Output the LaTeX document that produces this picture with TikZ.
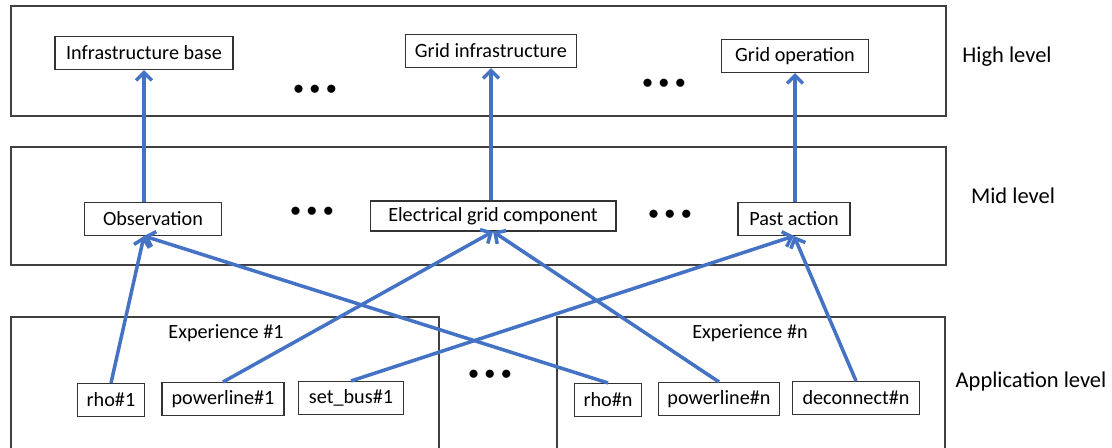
\documentclass[tikz,border=0pt]{standalone}
\usepackage{fontspec}
\setmainfont{Carlito}
\usetikzlibrary{arrows.meta, positioning}
\definecolor{linkBlue}{RGB}{68, 114, 196}
\tikzset{
    levelbox/.style={draw=black!75, line width=0.6pt},
    item/.style={draw=black!80, line width=0.6pt, fill=white, inner sep=0pt,
                 minimum height=0.66cm, font=\fontsize{11.5}{13}\selectfont},
    levelname/.style={font=\fontsize{12.8}{15}\selectfont},
    caption/.style={font=\fontsize{11.5}{13}\selectfont},
    dots/.style={font=\large},
    link/.style={draw=linkBlue, line width=2pt, -{Straight Barb[length=4.5pt, width=9pt]}}
}
\def\threedots{$\bullet\mkern1mu\bullet\mkern1mu\bullet$}

\begin{document}
\begin{tikzpicture}[x=0.02cm, y=-0.02cm]
    \useasboundingbox (0,0) rectangle (1112,448);

    % Draw the level frames
    \draw[levelbox] (11,6) rectangle (946,116);
    \draw[levelbox] (11,147) rectangle (946,265);
    \draw[levelbox] (11,449) |- (439,317) -- (439,449);
    \draw[levelbox] (557,449) |- (945,317) -- (945,449);

    \node[levelname] (high) at (1007,57) {High level};
    \node[levelname] (mid) at (1013,196) {Mid level};
    \node[levelname] (app) at (1031,382) {Application level};

    \node[caption] (exp1) at (226,333) {Experience \#1};
    \node[caption] (expn) at (750,333) {Experience \#n};

    % High level
    \node[item, minimum width=3.56cm] (infra) at (144,53) {Infrastructure base};
    \node[item, minimum width=3.42cm] (grid) at (491,51) {Grid infrastructure};
    \node[item, minimum width=2.94cm] (gridop) at (795,56) {Grid operation};
    \node[dots] (dotsA) at (315,90) {\threedots};
    \node[dots] (dotsB) at (664,84) {\threedots};

    % Mid level
    \node[item, minimum width=2.74cm] (obs) at (153,219) {Observation};
    \node[item, minimum width=4.92cm, minimum height=0.6cm] (elec) at (493,216) {Electrical grid component};
    \node[item, minimum width=2.24cm] (past) at (794,219) {Past action};
    \node[dots] (dotsC) at (312,212) {\threedots};
    \node[dots] (dotsD) at (670,215) {\threedots};

    % Application level
    \node[item, minimum width=1.34cm] (rho1) at (111,400) {rho\#1};
    \node[item, minimum width=2.44cm] (pl1) at (223,399) {powerline\#1};
    \node[item, minimum width=2.1cm] (bus1) at (351,398) {set\_bus\#1};
    \node[item, minimum width=1.34cm] (rhon) at (608,400) {rho\#n};
    \node[item, minimum width=2.42cm] (pln) at (719,399) {powerline\#n};
    \node[item, minimum width=2.54cm] (decn) at (856,398) {deconnect\#n};
    \node[dots] (dotsE) at (490,375) {\threedots};

    % Links
    \draw[link] (obs.north -| infra) -- (infra.south);
    \draw[link] (elec.north -| grid) -- (grid.south);
    \draw[link] (past.north -| gridop) -- (gridop.south);

    \draw[link] (rho1.north) -- (obs.south -| infra);
    \draw[link] (rhon.north) -- (obs.south -| infra);
    \draw[link] (pl1.north) -- (elec.south);
    \draw[link] (pln.north) -- (elec.south);
    \draw[link] (bus1.north) -- (past.south);
    \draw[link] (decn.north) -- (past.south);
\end{tikzpicture}
\end{document}
